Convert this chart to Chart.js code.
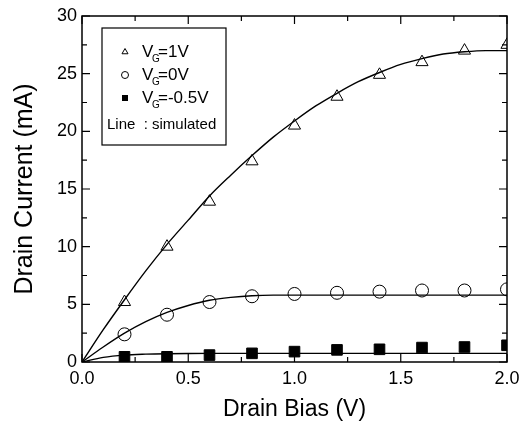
<!DOCTYPE html>
<html>
<head>
<meta charset="utf-8">
<script src="https://cdn.jsdelivr.net/npm/chart.js@4.4.1/dist/chart.umd.min.js"></script>
<style>
  html, body { margin: 0; padding: 0; background: #fff; }
  #wrap { width: 520px; height: 428px; }
</style>
</head>
<body>
<div id="wrap"><canvas id="chart" width="520" height="428"></canvas></div>
<script>
// measured points
const biasMeasured = [0.2, 0.4, 0.6, 0.8, 1.0, 1.2, 1.4, 1.6, 1.8, 2.0];
const vg1Measured = [5.2, 10.0, 13.9, 17.4, 20.5, 23.0, 24.9, 26.0, 27.0, 27.5];
const vg0Measured = [2.4, 4.1, 5.2, 5.7, 5.9, 6.0, 6.1, 6.2, 6.2, 6.3];
const vgNegMeasured = [0.45, 0.45, 0.6, 0.75, 0.9, 1.05, 1.1, 1.25, 1.3, 1.45];

// simulated curves
const biasSim = [0, 0.1, 0.2, 0.3, 0.4, 0.5, 0.6, 0.7, 0.8, 0.9, 1.0, 1.1, 1.2, 1.3, 1.4, 1.5, 1.6, 1.7, 1.8, 1.9, 2.0];
const vg1Sim = [0, 2.8, 5.4, 7.9, 10.2, 12.3, 14.4, 16.2, 17.9, 19.5, 20.9, 22.2, 23.3, 24.3, 25.1, 25.8, 26.3, 26.7, 26.9, 27.0, 27.0];
const vg0Sim = [0, 1.3, 2.5, 3.5, 4.3, 4.9, 5.35, 5.6, 5.75, 5.8, 5.8, 5.8, 5.8, 5.8, 5.8, 5.8, 5.8, 5.8, 5.8, 5.8, 5.8];
const vgNegSim = [0, 0.4, 0.6, 0.68, 0.72, 0.74, 0.75, 0.75, 0.75, 0.75, 0.75, 0.75, 0.75, 0.75, 0.75, 0.75, 0.75, 0.75, 0.75, 0.75, 0.75];

const xTicks = [0, 0.5, 1.0, 1.5, 2.0];
const yTicks = [0, 5, 10, 15, 20, 25, 30];

const FONT = "'Liberation Sans', Arial, sans-serif";
const toPts = (xs, ys) => xs.map((x, i) => ({ x: x, y: ys[i] }));

function simLine(ys) {
    return {
        data: toPts(biasSim, ys),
        showLine: true,
        borderColor: "#000",
        borderWidth: 1.4,
        pointRadius: 0,
        cubicInterpolationMode: "monotone",
        fill: false
    };
}

function markers(ys, style, radius, filled) {
    return {
        data: toPts(biasMeasured, ys),
        showLine: false,
        pointStyle: style,
        pointRadius: radius,
        pointBorderWidth: 1,
        pointBorderColor: "#000",
        pointBackgroundColor: filled ? "#000" : "rgba(0,0,0,0)"
    };
}

// inward ticks on all four sides plus the frame
const frameTicks = {
    id: "frameTicks",
    afterDraw(chart) {
        const ctx = chart.ctx;
        const a = chart.chartArea;
        const xs = chart.scales.x, ys = chart.scales.y;
        ctx.save();
        ctx.strokeStyle = "#000";
        ctx.lineWidth = 1.5;
        ctx.strokeRect(a.left, a.top, a.right - a.left, a.bottom - a.top);
        ctx.lineWidth = 1.2;
        ctx.beginPath();
        for (let v = 0; v <= 2.0001; v += 0.25) {
            const px = xs.getPixelForValue(v);
            const len = Math.abs(v / 0.5 - Math.round(v / 0.5)) < 1e-6 ? 8 : 5;
            ctx.moveTo(px, a.bottom); ctx.lineTo(px, a.bottom - len);
            ctx.moveTo(px, a.top); ctx.lineTo(px, a.top + len);
        }
        for (let v = 0; v <= 30.001; v += 2.5) {
            const py = ys.getPixelForValue(v);
            const len = Math.abs(v / 5 - Math.round(v / 5)) < 1e-6 ? 8 : 5;
            ctx.moveTo(a.left, py); ctx.lineTo(a.left + len, py);
            ctx.moveTo(a.right, py); ctx.lineTo(a.right - len, py);
        }
        ctx.stroke();
        ctx.restore();
    }
};

// boxed legend with subscripts
const boxLegend = {
    id: "boxLegend",
    afterDraw(chart) {
        const ctx = chart.ctx;
        ctx.save();
        ctx.strokeStyle = "#000";
        ctx.lineWidth = 1.2;
        ctx.strokeRect(102, 28, 124, 117);
        const rows = [
            { y: 52, style: "triangle", label: "=1V" },
            { y: 75, style: "circle", label: "=0V" },
            { y: 98, style: "rect", label: "=-0.5V" }
        ];
        ctx.textBaseline = "middle";
        rows.forEach(r => {
            ctx.lineWidth = 1;
            if (r.style === "rect") {
                ctx.fillStyle = "#000";
                ctx.fillRect(122, r.y - 3, 6, 6);
            } else {
                ctx.fillStyle = "#fff";
                Chart.helpers.drawPoint(ctx, { pointStyle: r.style, radius: 3.5, borderWidth: 1 }, 125, r.y);
            }
            ctx.fillStyle = "#000";
            ctx.font = "17px " + FONT;
            ctx.textAlign = "left";
            ctx.fillText("V", 142, r.y);
            ctx.font = "10px " + FONT;
            ctx.fillText("G", 152, r.y + 7);
            ctx.font = "17px " + FONT;
            ctx.fillText(r.label, 158, r.y);
        });
        ctx.font = "15px " + FONT;
        ctx.fillText("Line  : simulated", 107, 125);
        ctx.restore();
    }
};

new Chart(document.getElementById("chart"), {
    type: "scatter",
    data: {
        datasets: [
            simLine(vg1Sim),
            simLine(vg0Sim),
            simLine(vgNegSim),
            markers(vg1Measured, "triangle", 7, false),
            markers(vg0Measured, "circle", 6.5, false),
            markers(vgNegMeasured, "rect", 7.5, true)
        ]
    },
    options: {
        responsive: false,
        animation: false,
        layout: { padding: { top: 16, right: 13, left: 0, bottom: 0 } },
        plugins: { legend: { display: false }, tooltip: { enabled: false } },
        scales: {
            x: {
                type: "linear",
                min: 0, max: 2,
                afterBuildTicks: s => { s.ticks = xTicks.map(v => ({ value: v })); },
                afterFit: s => { s.height = 66; s.paddingLeft = 0; s.paddingRight = 0; },
                grid: { display: false, drawTicks: false },
                border: { display: false },
                ticks: {
                    color: "#000",
                    padding: 6,
                    font: { family: FONT, size: 18 },
                    callback: v => Number(v).toFixed(1)
                },
                title: {
                    display: true,
                    text: "Drain Bias (V)",
                    color: "#000",
                    padding: { top: 4, bottom: 5 },
                    font: { family: FONT, size: 23 }
                }
            },
            y: {
                min: 0, max: 30,
                afterBuildTicks: s => { s.ticks = yTicks.map(v => ({ value: v })); },
                afterFit: s => { s.width = 82; s.paddingTop = 0; s.paddingBottom = 0; },
                grid: { display: false, drawTicks: false },
                border: { display: false },
                ticks: {
                    color: "#000",
                    padding: 5,
                    font: { family: FONT, size: 18 }
                },
                title: {
                    display: true,
                    text: "Drain Current (mA)",
                    color: "#000",
                    padding: { top: 10, bottom: 0 },
                    font: { family: FONT, size: 25 }
                }
            }
        }
    },
    plugins: [frameTicks, boxLegend]
});
</script>
</body>
</html>
